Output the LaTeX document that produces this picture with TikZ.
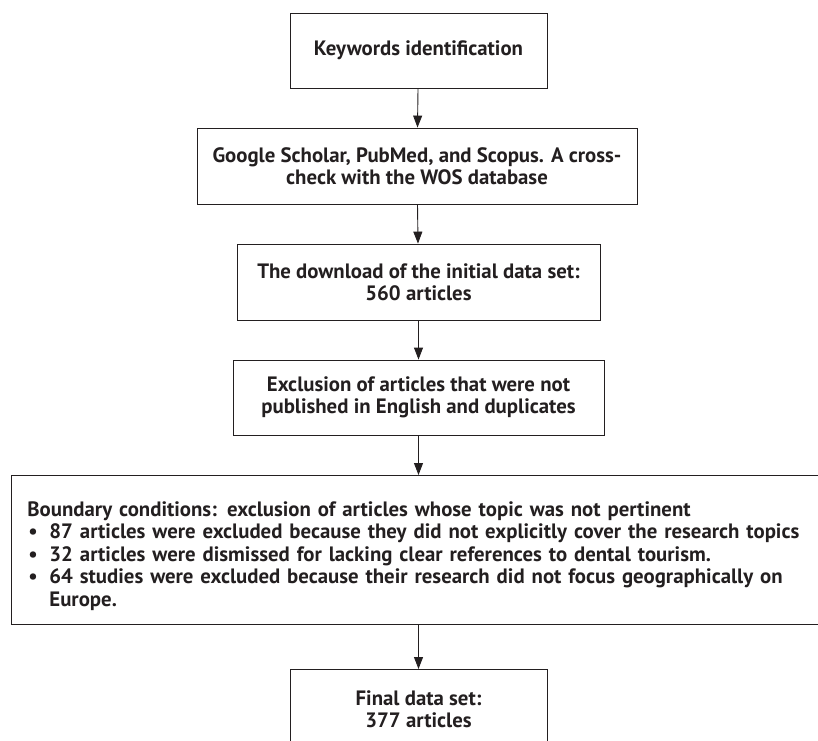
\documentclass[tikz,border=0pt]{standalone}
\usepackage{fontspec}
\setmainfont{PT Sans}
\usetikzlibrary{arrows.meta}
\definecolor{tinta}{HTML}{231F20}
\tikzset{
  caja/.style={draw=tinta, line width=0.9pt, rectangle, align=center, text=tinta, font=\bfseries\fontsize{20.8}{22.5}\selectfont, inner sep=0pt},
  flecha/.style={draw=tinta, line width=0.9pt, -{Triangle[width=9pt,length=12pt]}}
}
\begin{document}
\begin{tikzpicture}[x=1pt,y=-1pt]
% Marco
\clip (0,0) rectangle (818,740);
\useasboundingbox (0,0) rectangle (818,740);

% Cajas
\node[caja, minimum width=257, minimum height=75] (kw) at (418.5,50.5) {Keywords identification};
\node[caja, minimum width=440, minimum height=76] (db) at (417,166) {Google Scholar, PubMed, and Scopus. A cross-\\check with the WOS database};
\node[caja, minimum width=363, minimum height=76] (dl) at (418.5,282) {The download of the initial data set:\\560 articles};
\node[caja, minimum width=371, minimum height=75] (ex) at (418.5,397.5) {Exclusion of articles that were not\\published in English and duplicates};

% Condiciones de frontera
\node[caja, anchor=north west, align=left, minimum width=830, minimum height=149, text width=800, inner xsep=16pt] (bc) at (11,475) {\rule{0pt}{27pt}Boundary conditions: exclusion of articles whose topic was not pertinent\\
\makebox[22pt][l]{\hspace{1pt}\textbullet}87 articles were excluded because they did not explicitly cover the research topics\\
\makebox[22pt][l]{\hspace{1pt}\textbullet}32 articles were dismissed for lacking clear references to dental tourism.\\
\makebox[22pt][l]{\hspace{1pt}\textbullet}64 studies were excluded because their research did not focus geographically on\\
\hspace{22pt}Europe.};

% Final
\node[caja, anchor=north, minimum width=257, minimum height=80] (fin) at (418.5,669) {Final data set:\\377 articles};

% Flechas
\draw[flecha] (kw) -- (db);
\draw[flecha] (db) -- (dl);
\draw[flecha] (dl) -- (ex);
\draw[flecha] (ex.south) -- (ex.south |- bc.north);
\draw[flecha] (bc.south -| fin.north) -- (fin);
\end{tikzpicture}
\end{document}
